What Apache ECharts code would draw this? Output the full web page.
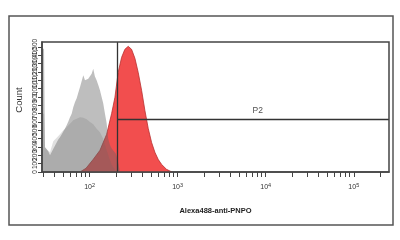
<!DOCTYPE html>
<html><head><meta charset="utf-8">
<script src="https://cdn.jsdelivr.net/npm/echarts@6/dist/echarts.min.js"></script>
<style>html,body{margin:0;padding:0;background:#fff}#c{width:400px;height:240px}</style>
</head><body><div id="c"></div>
<script>
// x values are log10(fluorescence intensity), y values are event counts
const grayALog = [1.460,1.483,1.494,1.514,1.530,1.551,1.570,1.588,1.610,1.627,1.645,1.664,1.683,1.702,1.720,1.740,1.760,1.778,1.797,1.815,1.835,1.854,1.872,1.891,1.910,1.929,1.948,1.967,1.985,2.005,2.024,2.042,2.060,2.080,2.100,2.118,2.137,2.155,2.175,2.194,2.212,2.233,2.254,2.277,2.299,2.322,2.345];
const grayACount = [1480,1480,300,300,250,200,240,260,320,344,390,416,450,464,520,560,610,656,700,776,840,884,950,1016,1090,1160,1100,1076,1120,1136,1180,1240,1150,1100,1040,980,900,824,700,584,400,320,280,250,220,130,0];
const grayBLog = [1.460,1.483,1.494,1.514,1.551,1.588,1.627,1.664,1.702,1.740,1.778,1.815,1.854,1.891,1.929,1.967,2.005,2.042,2.080,2.118,2.155,2.175,2.204,2.232,2.255,2.277,2.311];
const grayBCount = [700,700,290,308,236,368,410,452,500,536,580,620,640,656,650,632,600,572,520,476,400,320,230,140,80,44,0];
const redLog = [1.891,1.959,2.042,2.118,2.194,2.251,2.288,2.325,2.364,2.401,2.439,2.477,2.515,2.552,2.591,2.628,2.666,2.704,2.742,2.779,2.817,2.874,2.935];
const redCount = [0,44,152,260,452,704,896,1196,1376,1472,1508,1472,1364,1196,980,740,524,356,236,152,92,32,0];
const xDecadeExp = [2,3,4,5];
const xMinorMult = [2,3,4,5,6,7,8,9];
const xRange = [1.46, 5.40];
const yRange = [0, 1560];
const yStep = 100;
const gateX = 2.319;
const gateY = 629;
const gateName = 'P2';
const gateLabelX = 3.91;
const xTitle = 'Alexa488-anti-PNPO';
const yTitle = 'Count';

const tickVals = [];
for (let k = 1; k <= 5; k++) {
  tickVals.push(k);
  for (const m of xMinorMult) tickVals.push(k + Math.log10(m));
}
const ticksIn = tickVals.filter(v => v >= xRange[0] && v <= xRange[1]);
const pairs = (xs, ys) => xs.map((x, i) => [x, ys[i]]);
const font = 'Liberation Sans, Arial, sans-serif';

const chart = echarts.init(document.getElementById('c'), null, {renderer: 'canvas'});
chart.setOption({
  animation: false,
  backgroundColor: '#fff',
  textStyle: {fontFamily: font},
  graphic: [{type: 'rect', shape: {x: 9, y: 16, width: 384, height: 209}, style: {fill: null, stroke: '#555', lineWidth: 1.5}, z: 100}],
  grid: {left: 42, right: 11, top: 42, bottom: 68, show: true, borderColor: '#444', borderWidth: 1.5, backgroundColor: 'transparent', z: 10},
  xAxis: {
    type: 'value', min: xRange[0], max: xRange[1],
    name: xTitle, nameLocation: 'middle', nameGap: 35,
    nameTextStyle: {fontSize: 7.5, fontWeight: 'bold', color: '#222', fontFamily: font},
    axisLine: {show: true, lineStyle: {color: '#444', width: 1.5}},
    axisTick: {show: true, length: 5, lineStyle: {color: '#444', width: 1}, customValues: ticksIn},
    splitLine: {show: false},
    axisLabel: {
      customValues: xDecadeExp, margin: 10, color: '#333',
      formatter: v => '{b|10}{s|' + Math.round(v) + '}',
      rich: {b: {fontSize: 7, color: '#333', fontFamily: font}, s: {fontSize: 5.5, color: '#333', verticalAlign: 'top', padding: [0, 0, 5, 0], fontFamily: font}}
    }
  },
  yAxis: {
    type: 'value', min: yRange[0], max: yRange[1], interval: yStep,
    name: yTitle, nameLocation: 'middle', nameGap: 18, nameRotate: 90,
    nameTextStyle: {fontSize: 9.5, color: '#333', fontFamily: font, padding: [0, 0, 0, 14]},
    axisLine: {show: true, lineStyle: {color: '#444', width: 1.5}},
    axisTick: {show: true, length: 4, lineStyle: {color: '#444'}},
    splitLine: {show: false},
    axisLabel: {rotate: 90, fontSize: 6.5, margin: 3, color: '#333', showMaxLabel: false, fontFamily: font}
  },
  series: [
    {type: 'line', data: pairs(redLog, redCount), showSymbol: false, smooth: false, z: 2,
     lineStyle: {color: '#b83232', width: 0.8}, areaStyle: {color: '#f24e4e', opacity: 1}},
    {type: 'line', data: pairs(grayALog, grayACount), showSymbol: false, smooth: false, z: 3,
     lineStyle: {width: 0}, areaStyle: {color: 'rgb(100,100,100)', opacity: 0.42}},
    {type: 'line', data: pairs(grayBLog, grayBCount), showSymbol: false, smooth: false, z: 4,
     lineStyle: {width: 0}, areaStyle: {color: 'rgb(100,100,100)', opacity: 0.2}},
    {type: 'scatter', data: [[gateLabelX, gateY]], symbolSize: 0, z: 6,
     label: {show: true, position: 'top', distance: 4, formatter: gateName, fontSize: 8.5, color: '#222', fontFamily: font},
     markLine: {silent: true, symbol: 'none', label: {show: false},
       lineStyle: {color: '#333', width: 1.3, type: 'solid'},
       data: [{xAxis: gateX}, [{coord: [gateX, gateY]}, {coord: [xRange[1], gateY]}]]}}
  ]
});
</script>
</body></html>
